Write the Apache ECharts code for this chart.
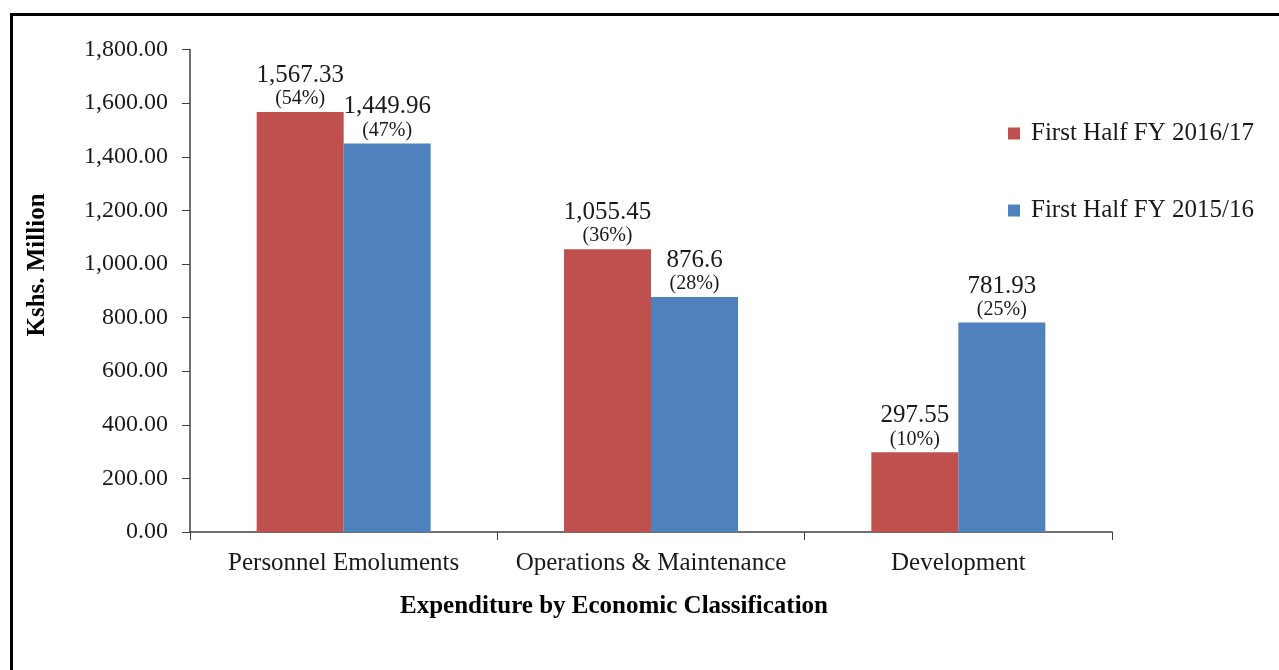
<!DOCTYPE html>
<html>
<head>
<meta charset="utf-8">
<script src="https://cdn.jsdelivr.net/npm/echarts@6/dist/echarts.min.js"></script>
<style>
  html, body { margin: 0; padding: 0; background: #fff; }
  #chart { width: 1279px; height: 670px; }
</style>
</head>
<body>
<div id="chart"></div>
<script>
// categories and values
var categories = ['Personnel Emoluments', 'Operations & Maintenance', 'Development'];
var seriesNames = ['First Half FY 2016/17', 'First Half FY 2015/16'];
var fy1617 = [1567.33, 1055.45, 297.55];
var fy1516 = [1449.96, 876.6, 781.93];
var share1617 = ['54%', '36%', '10%'];
var share1516 = ['47%', '28%', '25%'];
var yTicks = { min: 0, max: 1800, interval: 200 };

var serif = '"Liberation Serif", "Times New Roman", serif';

function barLabel(shares) {
  return {
    show: true,
    position: 'top',
    distance: 2,
    formatter: function (p) {
      return '{v|' + p.value.toLocaleString('en-US') + '}\n{p|(' + shares[p.dataIndex] + ')}';
    },
    rich: {
      v: { fontFamily: serif, fontSize: 25, color: '#1a1a1a', lineHeight: 25 },
      p: { fontFamily: serif, fontSize: 20, color: '#1a1a1a', lineHeight: 22 }
    }
  };
}

var chart = echarts.init(document.getElementById('chart'));

var option = {
  backgroundColor: '#fff',
  animation: false,
  textStyle: { fontFamily: serif },
  grid: { left: 190, right: 167, top: 49.6, bottom: 138 },
  legend: {
    orient: 'vertical',
    left: 1003,
    top: 116,
    itemWidth: 12,
    itemHeight: 12,
    itemGap: 52,
    icon: 'rect',
    data: seriesNames,
    textStyle: { fontFamily: serif, fontSize: 25, color: '#1a1a1a', padding: [0, 0, 0, 6] }
  },
  xAxis: {
    type: 'category',
    data: categories,
    axisLine: { lineStyle: { color: '#404040', width: 1.5 } },
    axisTick: { show: true, interval: 0, length: 8, alignWithLabel: false, lineStyle: { color: '#404040' } },
    axisLabel: { interval: 0, fontFamily: serif, fontSize: 25, color: '#1a1a1a', margin: 19 }
  },
  yAxis: {
    type: 'value',
    min: yTicks.min,
    max: yTicks.max,
    interval: yTicks.interval,
    splitLine: { show: false },
    axisLine: { show: true, lineStyle: { color: '#404040', width: 1.5 } },
    axisTick: { show: true, length: 8, lineStyle: { color: '#404040' } },
    axisLabel: {
      fontFamily: serif,
      fontSize: 24,
      color: '#1a1a1a',
      margin: 22,
      formatter: function (v) {
        return v.toLocaleString('en-US', { minimumFractionDigits: 2, maximumFractionDigits: 2 });
      }
    }
  },
  graphic: [
    {
      type: 'rect',
      shape: { x: 11.5, y: 14.5, width: 1400, height: 800 },
      style: { fill: 'none', stroke: '#000', lineWidth: 3 },
      silent: true
    },
    {
      type: 'text',
      x: 38,
      y: 265,
      rotation: Math.PI / 2,
      style: {
        text: 'Kshs. Million',
        font: 'bold 25px ' + serif,
        fill: '#000',
        textAlign: 'center',
        textVerticalAlign: 'middle'
      }
    },
    {
      type: 'text',
      x: 614,
      y: 607,
      style: {
        text: 'Expenditure by Economic Classification',
        font: 'bold 25px ' + serif,
        fill: '#000',
        textAlign: 'center',
        textVerticalAlign: 'middle'
      }
    }
  ],
  series: [
    {
      name: seriesNames[0],
      type: 'bar',
      data: fy1617,
      barWidth: 87,
      barGap: '0%',
      itemStyle: { color: '#C0504D' },
      label: barLabel(share1617)
    },
    {
      name: seriesNames[1],
      type: 'bar',
      data: fy1516,
      barWidth: 87,
      barGap: '0%',
      itemStyle: { color: '#4F81BD' },
      label: barLabel(share1516)
    }
  ]
};

chart.setOption(option);
</script>
</body>
</html>
